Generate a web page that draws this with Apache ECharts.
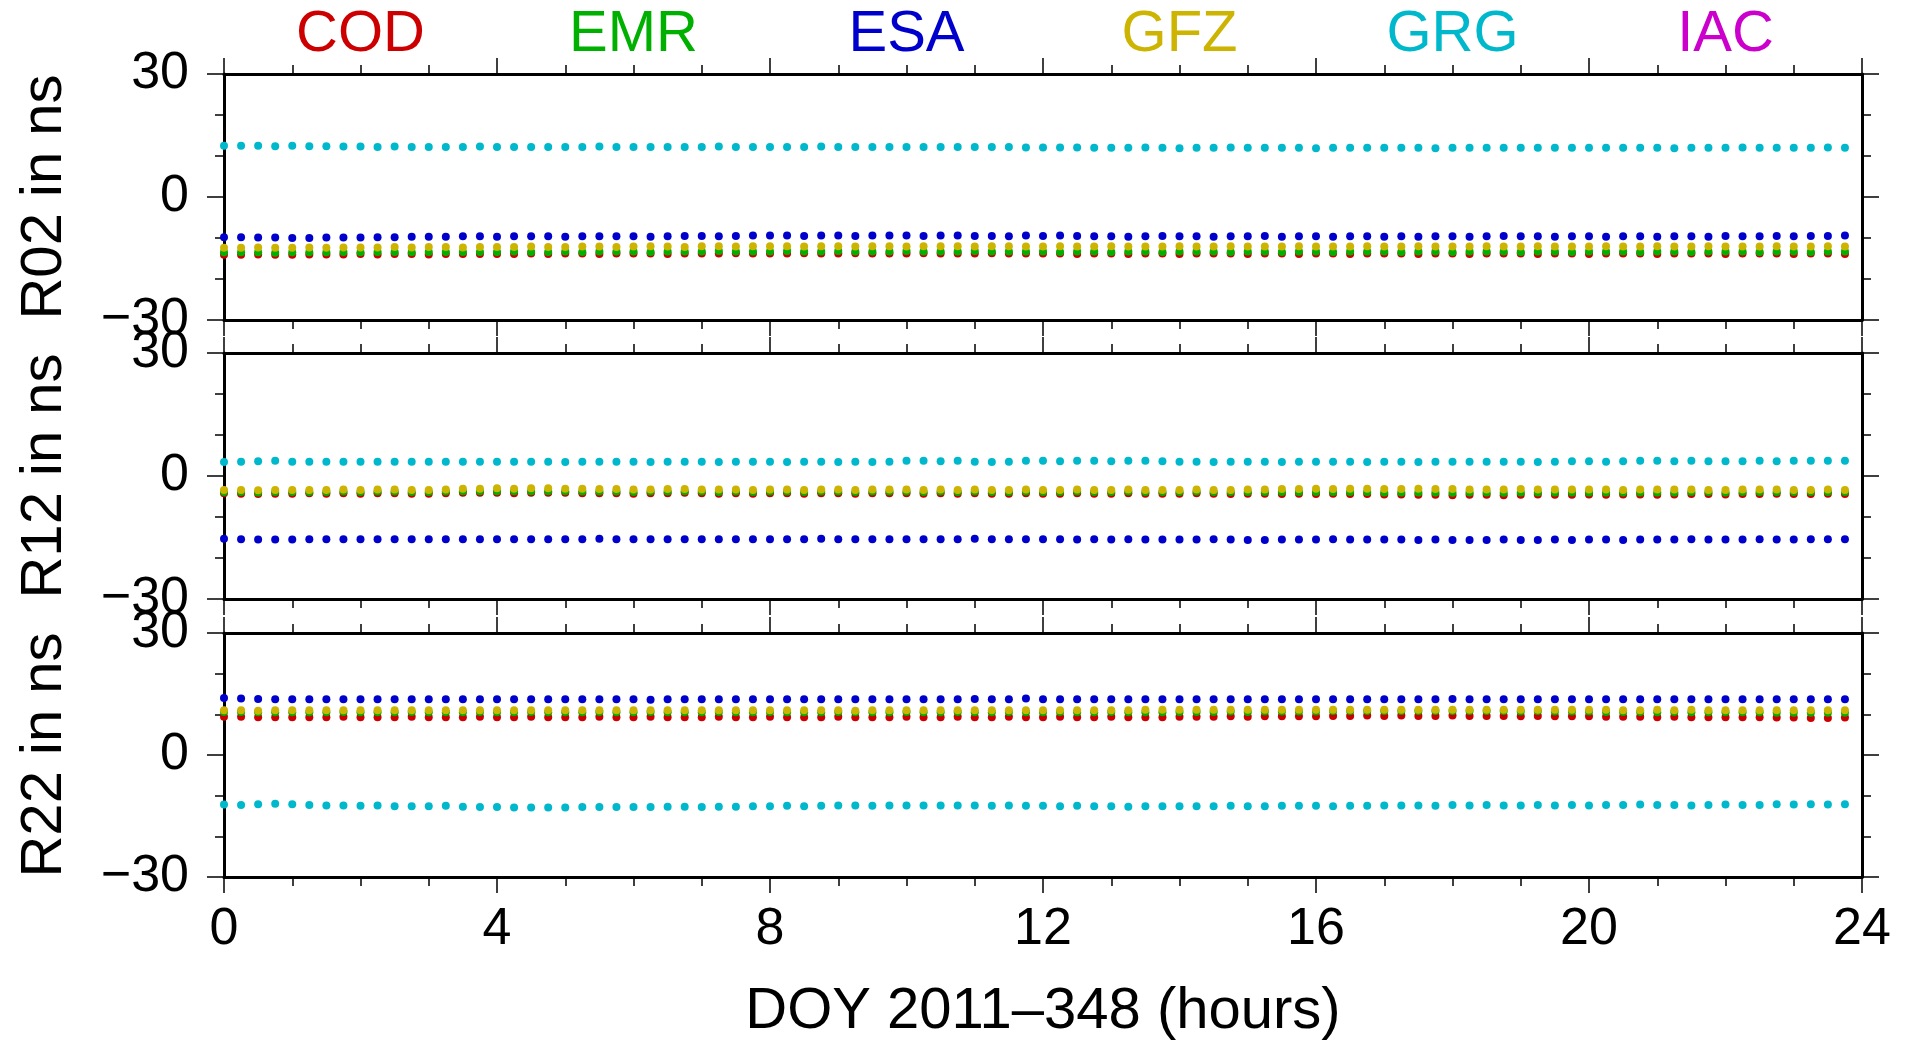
<!DOCTYPE html>
<html>
<head>
<meta charset="utf-8">
<script src="https://cdn.jsdelivr.net/npm/echarts@6/dist/echarts.min.js"></script>
<style>
html,body{margin:0;padding:0;background:#fff;}
#chart{width:1906px;height:1042px;}
</style>
</head>
<body>
<div id="chart"></div>
<script>
// ---------------- DATA ----------------
const centers = ['COD', 'EMR', 'ESA', 'GFZ', 'GRG', 'IAC'];
const satellites = ['R02', 'R12', 'R22'];
const xTickLabels = [0, 4, 8, 12, 16, 20, 24];
const yTickLabels = [-30, 0, 30];
const sampleStepHours = 0.25; // 15-minute epochs, 96 per day
const xAxisTitle = 'DOY 2011\u2013348 (hours)';

const R02_COD = [
-14.1,-14.1,-14.0,-14.1,-14.1,-14.0,-14.0,-14.0,-13.9,-14.0,-13.9,-13.9,-14.0,-13.9,-13.9,-13.9,
-13.9,-13.9,-13.8,-13.9,-13.8,-13.8,-13.9,-13.8,-13.8,-13.8,-13.9,-13.8,-13.8,-13.8,-13.7,-13.8,
-13.8,-13.8,-13.7,-13.8,-13.8,-13.7,-13.8,-13.8,-13.8,-13.7,-13.8,-13.8,-13.8,-13.7,-13.8,-13.8,
-13.8,-13.8,-13.9,-13.8,-13.8,-13.9,-13.8,-13.8,-13.9,-13.8,-13.8,-13.8,-13.9,-13.8,-13.8,-13.9,
-13.8,-13.8,-13.9,-13.8,-13.8,-13.8,-13.9,-13.8,-13.8,-13.9,-13.8,-13.8,-13.8,-13.9,-13.8,-13.8,
-13.9,-13.8,-13.8,-13.8,-13.9,-13.8,-13.8,-13.8,-13.9,-13.8,-13.8,-13.8,-13.9,-13.8,-13.8,-13.9];
const R02_EMR = [
-13.5,-13.5,-13.5,-13.6,-13.5,-13.5,-13.5,-13.4,-13.5,-13.4,-13.4,-13.5,-13.4,-13.4,-13.4,-13.4,
-13.4,-13.3,-13.4,-13.4,-13.3,-13.4,-13.3,-13.3,-13.3,-13.4,-13.3,-13.3,-13.3,-13.2,-13.3,-13.3,
-13.3,-13.2,-13.3,-13.3,-13.2,-13.3,-13.3,-13.3,-13.2,-13.3,-13.3,-13.3,-13.2,-13.3,-13.3,-13.3,
-13.3,-13.4,-13.3,-13.3,-13.4,-13.3,-13.3,-13.4,-13.3,-13.3,-13.3,-13.4,-13.3,-13.3,-13.4,-13.3,
-13.3,-13.4,-13.3,-13.3,-13.3,-13.4,-13.3,-13.3,-13.4,-13.3,-13.3,-13.3,-13.4,-13.3,-13.3,-13.4,
-13.3,-13.3,-13.3,-13.4,-13.3,-13.3,-13.4,-13.3,-13.3,-13.3,-13.4,-13.3,-13.3,-13.4,-13.3,-13.3];
const R02_ESA = [
-9.8,-9.8,-9.9,-9.9,-10.0,-10.0,-9.9,-9.9,-9.9,-9.8,-9.8,-9.7,-9.7,-9.7,-9.6,-9.6,
-9.7,-9.6,-9.6,-9.6,-9.7,-9.6,-9.6,-9.6,-9.6,-9.7,-9.6,-9.5,-9.5,-9.6,-9.5,-9.4,
-9.4,-9.4,-9.5,-9.4,-9.4,-9.5,-9.4,-9.4,-9.4,-9.5,-9.4,-9.4,-9.5,-9.5,-9.6,-9.4,
-9.5,-9.4,-9.5,-9.6,-9.6,-9.7,-9.6,-9.5,-9.6,-9.6,-9.7,-9.6,-9.6,-9.5,-9.7,-9.6,
-9.6,-9.7,-9.6,-9.6,-9.7,-9.6,-9.7,-9.6,-9.6,-9.7,-9.6,-9.5,-9.6,-9.6,-9.7,-9.6,
-9.6,-9.7,-9.6,-9.6,-9.7,-9.6,-9.6,-9.7,-9.5,-9.6,-9.6,-9.5,-9.6,-9.5,-9.5,-9.4];
const R02_GFZ = [
-12.4,-12.4,-12.3,-12.4,-12.4,-12.3,-12.4,-12.3,-12.3,-12.3,-12.2,-12.3,-12.2,-12.2,-12.3,-12.2,
-12.2,-12.2,-12.1,-12.2,-12.2,-12.1,-12.1,-12.2,-12.1,-12.0,-12.1,-12.2,-12.0,-12.0,-12.1,-12.0,
-12.0,-12.0,-12.1,-12.0,-12.0,-12.1,-12.0,-12.0,-12.1,-12.0,-12.0,-12.0,-12.1,-12.0,-12.0,-12.1,
-12.1,-12.0,-12.1,-12.1,-12.0,-12.1,-12.1,-12.1,-12.0,-12.1,-12.1,-12.0,-12.1,-12.1,-12.1,-12.0,
-12.1,-12.1,-12.1,-12.0,-12.1,-12.1,-12.0,-12.1,-12.1,-12.1,-12.0,-12.1,-12.1,-12.0,-12.1,-12.1,
-12.1,-12.0,-12.1,-12.1,-12.0,-12.1,-12.1,-12.0,-12.1,-12.1,-12.1,-12.0,-12.1,-12.1,-12.0,-12.1];
const R02_GRG = [
12.5,12.5,12.5,12.4,12.5,12.4,12.4,12.3,12.3,12.2,12.3,12.2,12.2,12.2,12.2,12.3,
12.2,12.2,12.2,12.2,12.2,12.2,12.3,12.2,12.2,12.2,12.2,12.2,12.2,12.3,12.2,12.2,
12.2,12.2,12.2,12.3,12.2,12.2,12.2,12.2,12.2,12.2,12.2,12.2,12.2,12.2,12.2,12.1,
12.1,12.1,12.1,12.0,12.0,12.0,12.1,12.0,11.9,12.0,12.0,12.1,12.0,12.0,12.0,12.0,
11.9,12.0,12.0,12.0,12.0,12.0,12.0,11.9,12.0,12.0,12.0,12.0,12.0,12.0,12.0,12.0,
12.0,12.0,12.0,12.0,12.0,11.9,12.0,12.0,12.0,12.1,12.0,12.0,12.0,12.0,12.1,12.0];
const R02_IAC = [];

const R12_COD = [
-4.2,-4.3,-4.4,-4.3,-4.3,-4.2,-4.3,-4.2,-4.3,-4.2,-4.2,-4.3,-4.3,-4.2,-4.1,-4.1,
-4.1,-4.2,-4.1,-4.1,-4.1,-4.2,-4.2,-4.2,-4.3,-4.2,-4.2,-4.1,-4.2,-4.3,-4.2,-4.3,
-4.2,-4.2,-4.3,-4.2,-4.2,-4.3,-4.2,-4.2,-4.2,-4.3,-4.2,-4.3,-4.2,-4.3,-4.3,-4.2,
-4.3,-4.3,-4.2,-4.3,-4.3,-4.2,-4.3,-4.3,-4.3,-4.2,-4.3,-4.4,-4.3,-4.3,-4.4,-4.3,
-4.4,-4.3,-4.4,-4.4,-4.5,-4.5,-4.6,-4.6,-4.7,-4.6,-4.6,-4.7,-4.6,-4.5,-4.6,-4.6,
-4.5,-4.6,-4.5,-4.5,-4.6,-4.5,-4.4,-4.4,-4.5,-4.4,-4.4,-4.3,-4.4,-4.4,-4.3,-4.4];
const R12_EMR = [
-3.9,-3.9,-4.0,-3.9,-3.9,-3.9,-3.9,-3.8,-3.9,-3.8,-3.8,-3.9,-3.9,-3.8,-3.7,-3.7,
-3.7,-3.7,-3.7,-3.7,-3.7,-3.8,-3.8,-3.8,-3.9,-3.8,-3.8,-3.7,-3.8,-3.9,-3.8,-3.9,
-3.8,-3.8,-3.9,-3.8,-3.8,-3.9,-3.8,-3.8,-3.8,-3.9,-3.8,-3.9,-3.8,-3.9,-3.9,-3.8,
-3.9,-3.9,-3.8,-3.9,-3.9,-3.8,-3.9,-3.9,-3.9,-3.8,-3.9,-3.9,-3.9,-3.9,-3.9,-3.9,
-3.9,-3.9,-3.9,-3.9,-4.0,-4.0,-4.0,-4.0,-4.1,-4.0,-4.0,-4.1,-4.0,-4.0,-4.0,-4.0,
-4.0,-4.0,-4.0,-4.0,-4.0,-4.0,-3.9,-3.9,-4.0,-3.9,-3.9,-3.9,-3.9,-3.9,-3.9,-3.9];
const R12_ESA = [
-15.3,-15.4,-15.5,-15.5,-15.5,-15.4,-15.4,-15.4,-15.4,-15.4,-15.4,-15.4,-15.4,-15.4,-15.4,-15.4,
-15.4,-15.4,-15.4,-15.4,-15.4,-15.4,-15.3,-15.4,-15.4,-15.4,-15.4,-15.4,-15.4,-15.4,-15.4,-15.4,
-15.4,-15.4,-15.4,-15.3,-15.4,-15.4,-15.4,-15.4,-15.4,-15.4,-15.4,-15.4,-15.3,-15.4,-15.4,-15.4,
-15.4,-15.4,-15.5,-15.4,-15.5,-15.4,-15.5,-15.5,-15.5,-15.5,-15.4,-15.5,-15.6,-15.6,-15.5,-15.5,
-15.5,-15.4,-15.5,-15.5,-15.5,-15.5,-15.6,-15.5,-15.6,-15.6,-15.6,-15.5,-15.6,-15.6,-15.5,-15.6,
-15.5,-15.5,-15.6,-15.5,-15.5,-15.5,-15.4,-15.5,-15.5,-15.5,-15.4,-15.5,-15.5,-15.4,-15.4,-15.4];
const R12_GFZ = [
-3.4,-3.4,-3.5,-3.4,-3.4,-3.4,-3.4,-3.3,-3.4,-3.3,-3.3,-3.4,-3.4,-3.3,-3.1,-3.1,
-3.0,-3.1,-3.0,-3.0,-3.1,-3.1,-3.2,-3.2,-3.3,-3.3,-3.2,-3.2,-3.3,-3.3,-3.3,-3.4,
-3.3,-3.3,-3.4,-3.3,-3.3,-3.4,-3.3,-3.3,-3.3,-3.4,-3.3,-3.4,-3.3,-3.4,-3.4,-3.3,
-3.4,-3.4,-3.3,-3.4,-3.4,-3.3,-3.4,-3.4,-3.4,-3.3,-3.4,-3.4,-3.3,-3.3,-3.2,-3.2,
-3.1,-3.2,-3.1,-3.1,-3.2,-3.2,-3.1,-3.2,-3.2,-3.3,-3.3,-3.3,-3.2,-3.3,-3.3,-3.3,
-3.3,-3.3,-3.4,-3.3,-3.3,-3.3,-3.3,-3.4,-3.4,-3.3,-3.3,-3.3,-3.4,-3.4,-3.3,-3.4];
const R12_GRG = [
3.4,3.5,3.6,3.7,3.5,3.5,3.5,3.5,3.5,3.5,3.5,3.5,3.5,3.5,3.5,3.5,
3.5,3.5,3.5,3.5,3.4,3.5,3.5,3.5,3.5,3.4,3.5,3.5,3.5,3.4,3.5,3.5,
3.5,3.4,3.5,3.5,3.4,3.5,3.4,3.5,3.7,3.7,3.6,3.7,3.5,3.4,3.5,3.7,
3.7,3.6,3.7,3.7,3.6,3.7,3.7,3.6,3.5,3.5,3.4,3.5,3.5,3.5,3.4,3.5,
3.5,3.5,3.5,3.4,3.5,3.5,3.4,3.5,3.5,3.5,3.5,3.5,3.5,3.4,3.5,3.6,
3.6,3.5,3.6,3.7,3.7,3.6,3.7,3.6,3.6,3.6,3.7,3.6,3.7,3.7,3.7,3.7];
const R12_IAC = [];

const R22_COD = [
9.4,9.4,9.3,9.3,9.3,9.3,9.3,9.4,9.3,9.3,9.3,9.4,9.3,9.3,9.3,9.4,
9.3,9.3,9.4,9.3,9.3,9.3,9.4,9.3,9.3,9.4,9.3,9.3,9.3,9.4,9.3,9.3,
9.4,9.3,9.3,9.3,9.4,9.3,9.3,9.3,9.4,9.3,9.3,9.4,9.3,9.3,9.4,9.3,
9.3,9.4,9.3,9.3,9.4,9.3,9.3,9.3,9.4,9.4,9.4,9.5,9.4,9.5,9.5,9.5,
9.5,9.6,9.6,9.7,9.6,9.7,9.6,9.6,9.7,9.6,9.6,9.6,9.5,9.6,9.5,9.5,
9.5,9.4,9.4,9.4,9.3,9.4,9.3,9.3,9.3,9.3,9.3,9.2,9.2,9.1,9.1,9.2];
const R22_EMR = [
10.6,10.6,10.5,10.5,10.5,10.5,10.5,10.6,10.5,10.5,10.5,10.6,10.5,10.5,10.5,10.6,
10.5,10.5,10.6,10.5,10.5,10.5,10.6,10.5,10.5,10.6,10.5,10.5,10.5,10.6,10.5,10.5,
10.6,10.5,10.5,10.5,10.6,10.5,10.5,10.5,10.6,10.5,10.5,10.6,10.5,10.5,10.6,10.5,
10.5,10.6,10.5,10.5,10.6,10.5,10.5,10.5,10.6,10.6,10.6,10.7,10.6,10.7,10.7,10.7,
10.7,10.8,10.8,10.8,10.8,10.8,10.8,10.8,10.8,10.8,10.8,10.8,10.7,10.8,10.7,10.7,
10.7,10.6,10.6,10.6,10.5,10.6,10.5,10.5,10.5,10.5,10.5,10.4,10.4,10.4,10.4,10.4];
const R22_ESA = [
14.0,13.9,13.8,13.7,13.7,13.7,13.7,13.7,13.7,13.7,13.7,13.7,13.7,13.7,13.7,13.7,
13.7,13.7,13.7,13.7,13.7,13.7,13.7,13.7,13.7,13.6,13.7,13.7,13.7,13.7,13.7,13.7,
13.7,13.7,13.7,13.7,13.7,13.7,13.7,13.7,13.7,13.7,13.7,13.7,13.8,13.7,13.7,13.9,
13.7,13.7,13.7,13.7,13.7,13.7,13.7,13.7,13.7,13.7,13.7,13.7,13.7,13.7,13.7,13.7,
13.7,13.7,13.7,13.7,13.7,13.7,13.7,13.7,13.8,13.7,13.7,13.7,13.7,13.7,13.7,13.7,
13.7,13.7,13.7,13.7,13.7,13.7,13.7,13.7,13.7,13.7,13.7,13.7,13.7,13.7,13.7,13.7];
const R22_GFZ = [
11.0,11.0,10.9,11.0,11.0,11.0,11.0,11.0,11.0,11.0,11.0,11.0,11.0,11.0,11.0,11.0,
11.0,11.0,11.0,11.0,11.0,11.0,11.0,11.0,11.0,11.0,11.0,11.0,11.0,11.0,11.0,11.0,
11.0,11.0,11.0,11.0,11.0,10.9,11.0,11.0,11.0,11.0,11.0,11.0,11.0,11.0,11.0,11.0,
11.0,11.0,11.0,11.0,11.0,11.0,11.1,11.1,11.1,11.1,11.1,11.1,11.1,11.1,11.1,11.1,
11.1,11.1,11.1,11.1,11.1,11.1,11.1,11.1,11.1,11.1,11.1,11.1,11.1,11.1,11.1,11.1,
11.1,11.1,11.0,11.0,11.1,11.0,11.1,11.0,11.0,11.0,11.0,11.0,11.0,11.0,11.0,11.0];
const R22_GRG = [
-12.2,-12.3,-12.1,-12.0,-12.1,-12.3,-12.4,-12.4,-12.5,-12.4,-12.6,-12.6,-12.6,-12.5,-12.7,-12.8,
-12.8,-12.9,-12.9,-12.9,-12.9,-12.8,-12.8,-12.8,-12.8,-12.8,-12.7,-12.7,-12.8,-12.7,-12.7,-12.6,
-12.6,-12.5,-12.6,-12.5,-12.4,-12.4,-12.5,-12.4,-12.4,-12.4,-12.4,-12.4,-12.4,-12.5,-12.4,-12.5,
-12.5,-12.6,-12.5,-12.6,-12.6,-12.7,-12.6,-12.6,-12.6,-12.6,-12.6,-12.5,-12.6,-12.6,-12.5,-12.5,
-12.5,-12.6,-12.5,-12.5,-12.4,-12.4,-12.4,-12.5,-12.3,-12.4,-12.3,-12.4,-12.4,-12.3,-12.4,-12.3,
-12.4,-12.3,-12.3,-12.2,-12.3,-12.3,-12.4,-12.3,-12.2,-12.3,-12.3,-12.1,-12.2,-12.1,-12.2,-12.1];
const R22_IAC = [];

// ---------------- STYLE ----------------
const centerColors = ['#cc0000', '#00b000', '#0000cc', '#ccb400', '#00b8cc', '#cc00cc'];
const FONT = '"Liberation Sans", Arial, Helvetica, sans-serif';

const panelData = [
  [R02_COD, R02_EMR, R02_ESA, R02_GFZ, R02_GRG, R02_IAC],
  [R12_COD, R12_EMR, R12_ESA, R12_GFZ, R12_GRG, R12_IAC],
  [R22_COD, R22_EMR, R22_ESA, R22_GFZ, R22_GRG, R22_IAC]
];

const gridTops = [74, 353, 633];
const gridHeight = 246;
const LEFT = 224, RIGHT = 44;
const lineW = 3;

const fmtY = v => v < 0 ? '\u2212' + Math.abs(v) : String(v);

const grids = [], xAxes = [], yAxes = [], series = [];
satellites.forEach((sat, p) => {
  grids.push({left: LEFT, right: RIGHT, top: gridTops[p], height: gridHeight, containLabel: false});
  const isLast = p === satellites.length - 1;
  const xCommon = {
    type: 'value', gridIndex: p,
    min: xTickLabels[0], max: xTickLabels[xTickLabels.length - 1],
    interval: xTickLabels[1] - xTickLabels[0],
    splitLine: {show: false},
    axisLine: {show: true, onZero: false, lineStyle: {color: '#000', width: lineW}},
    axisTick: {show: true, inside: false, length: 16, lineStyle: {color: '#000', width: 1.5}},
    minorTick: {show: true, splitNumber: 4, length: 9, lineStyle: {color: '#000', width: 1.5}}
  };
  xAxes.push(Object.assign({}, xCommon, {
    position: 'bottom',
    axisLabel: {show: isLast, fontSize: 52, color: '#000', fontFamily: FONT, margin: 27,
      showMinLabel: true, showMaxLabel: true},
    name: isLast ? xAxisTitle : '',
    nameLocation: 'middle', nameGap: 106,
    nameTextStyle: {fontSize: 58, color: '#000', fontFamily: FONT}
  }));
  xAxes.push(Object.assign({}, xCommon, {position: 'top', axisLabel: {show: false}}));

  const yCommon = {
    type: 'value', gridIndex: p,
    min: yTickLabels[0], max: yTickLabels[yTickLabels.length - 1],
    interval: yTickLabels[1] - yTickLabels[0],
    splitLine: {show: false},
    axisLine: {show: true, onZero: false, lineStyle: {color: '#000', width: lineW}},
    axisTick: {show: true, inside: false, length: 17, lineStyle: {color: '#000', width: 1.5}},
    minorTick: {show: true, splitNumber: 3, length: 9, lineStyle: {color: '#000', width: 1.5}}
  };
  yAxes.push(Object.assign({}, yCommon, {
    position: 'left',
    axisLabel: {show: true, fontSize: 52, color: '#000', fontFamily: FONT, margin: 35,
      formatter: fmtY, showMinLabel: true, showMaxLabel: true},
    name: sat + ' in ns', nameLocation: 'middle', nameRotate: 90, nameGap: 150,
    nameTextStyle: {fontSize: 58, color: '#000', fontFamily: FONT}
  }));
  yAxes.push(Object.assign({}, yCommon, {position: 'right', axisLabel: {show: false}}));

  centers.forEach((c, k) => {
    const vals = panelData[p][k];
    series.push({
      type: 'scatter', name: c,
      xAxisIndex: 2 * p, yAxisIndex: 2 * p,
      data: vals.map((v, i) => [i * sampleStepHours, v]),
      symbol: 'circle', symbolSize: 8,
      itemStyle: {color: centerColors[k], opacity: 1},
      silent: true, animation: false, z: 2 + k
    });
  });
});

// centre names along the top of the first panel, one per 4-hour band
xAxes.push({
  type: 'category', gridIndex: 0, position: 'top',
  data: centers, boundaryGap: true,
  axisLine: {show: false}, axisTick: {show: false}, splitLine: {show: false},
  axisLabel: {show: true, interval: 0, fontSize: 58, fontFamily: FONT, margin: 10,
    color: (val) => centerColors[centers.indexOf(val)]}
});

const chart = echarts.init(document.getElementById('chart'), null, {renderer: 'canvas'});
chart.setOption({
  animation: false,
  backgroundColor: '#fff',
  textStyle: {fontFamily: FONT},
  grid: grids,
  xAxis: xAxes,
  yAxis: yAxes,
  series: series
});
</script>
</body>
</html>
